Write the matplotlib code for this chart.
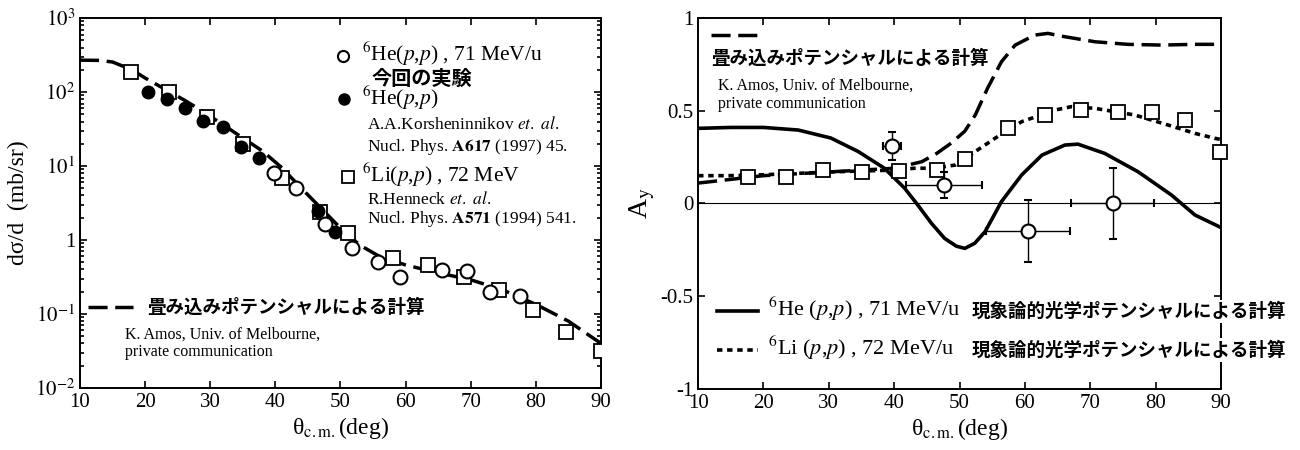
import numpy as np
import matplotlib
matplotlib.use("Agg")
import matplotlib.pyplot as plt
from matplotlib.ticker import FixedLocator, LogLocator, NullFormatter

plt.rcParams['font.family'] = ['Liberation Serif', 'DejaVu Serif']
plt.rcParams['mathtext.fontset'] = 'stix'
plt.rcParams['axes.unicode_minus'] = False

JP = ['Noto Sans CJK JP', 'DejaVu Sans']

# ---- left panel: cross sections ----
he_new_x = [39.8, 43.2, 47.6, 51.7, 55.8, 59.2, 65.6, 69.4, 73.0, 77.5]
he_new_y = [8.0, 5.0, 1.65, 0.77, 0.51, 0.32, 0.39, 0.38, 0.20, 0.175]

he_kor_x = [20.5, 23.3, 26.1, 28.9, 31.9, 34.7, 37.5, 46.5, 49.2]
he_kor_y = [99, 80, 61, 41, 34, 18, 12.7, 2.45, 1.28]

li_x = [17.8, 23.6, 29.5, 35.1, 41.0, 46.8, 51.2, 58.0, 63.5, 69.0, 74.4, 79.6, 84.6, 90.0]
li_y = [188, 99, 46, 20, 6.8, 2.4, 1.23, 0.565, 0.46, 0.32, 0.21, 0.113, 0.058, 0.032]

fold_x = [10, 13, 15, 18, 20, 23, 26, 29, 32, 35, 38, 41, 44, 47, 50,
          53, 56, 60, 65, 70, 75, 80, 85, 90]
fold_y = [270, 268, 255, 200, 155, 110, 78, 54, 36, 24, 16, 9.5, 5.0, 2.7, 1.45,
          0.85, 0.6, 0.46, 0.36, 0.29, 0.21, 0.135, 0.08, 0.04]

# ---- right panel: analyzing power ----
ay_he_x = [39.7, 47.6, 60.5, 73.4]
ay_he_y = [0.31, 0.10, -0.15, 0.0]
ay_he_xerr = [1.4, 5.8, 6.4, 6.3]
ay_he_yerr = [0.075, 0.068, 0.167, 0.19]

ay_li_x = [17.6, 23.4, 29.1, 35.0, 40.8, 46.6, 50.8, 57.4, 63.1, 68.6, 74.3, 79.4, 84.5, 89.8]
ay_li_y = [0.144, 0.141, 0.18, 0.171, 0.177, 0.18, 0.24, 0.409, 0.477, 0.504, 0.495,
           0.495, 0.45, 0.28]

phen_he_x = [10, 15, 20, 25.3, 30.3, 34.5, 38.5, 41.6, 43.6, 45.7, 47.7, 49.5, 50.8,
             52.3, 53.9, 56.4, 59.5, 62.6, 66.1, 68.1, 72.2, 77.3, 82.4, 86.0, 90]
phen_he_y = [0.405, 0.41, 0.41, 0.396, 0.353, 0.28, 0.19, 0.082, -0.008, -0.107, -0.188,
             -0.23, -0.242, -0.215, -0.152, 0.01, 0.154, 0.261, 0.315, 0.32, 0.27,
             0.171, 0.046, -0.062, -0.13]

phen_li_x = [10, 15, 20, 25, 30, 35, 40, 43.1, 45, 47, 49.3, 52.4, 55.4, 59.5, 64.6,
             67.1, 70.7, 76.8, 81.9, 86.0, 89.1, 90]
phen_li_y = [0.15, 0.15, 0.155, 0.162, 0.17, 0.175, 0.18, 0.19, 0.19, 0.195, 0.207,
             0.28, 0.351, 0.441, 0.504, 0.522, 0.513, 0.477, 0.423, 0.378, 0.351, 0.345]

fold_ay_x = [10, 15, 20, 25, 30, 35, 40, 44.2, 46.5, 48.7, 50.8, 52.4, 54.3, 56.4,
             58.5, 61.5, 63.5, 66.1, 70.7, 75.7, 80.9, 86.0, 90]
fold_ay_y = [0.11, 0.13, 0.15, 0.16, 0.17, 0.18, 0.19, 0.225, 0.27, 0.325, 0.39, 0.477,
             0.623, 0.764, 0.854, 0.908, 0.917, 0.899, 0.872, 0.858, 0.854, 0.858, 0.858]

fig = plt.figure(figsize=(13, 4.5), dpi=100)
ax1 = fig.add_axes([0.0615, 0.1378, 0.4008, 0.822])
ax2 = fig.add_axes([0.537, 0.1356, 0.4023, 0.8244])

for ax in (ax1, ax2):
    for s in ax.spines.values():
        s.set_linewidth(1.4)
    ax.tick_params(which='both', direction='in', top=True, right=True,
                   labelsize=15, width=1.2)
    ax.tick_params(which='major', length=5)
    ax.tick_params(which='minor', length=3)
    ax.set_xlim(10, 90)
    ax.set_xticks(range(10, 91, 10))
    ax.set_xlabel(r'θ$_{\rm c.m.}$(deg)', fontsize=17, labelpad=2)

# left panel
ax1.set_yscale('log')
ax1.set_ylim(1e-2, 1e3)
ax1.yaxis.set_major_locator(FixedLocator([1e-2, 1e-1, 1, 1e1, 1e2, 1e3]))
ax1.set_yticklabels([r'$10^{-2}$', r'$10^{-1}$', '1', r'$10^{1}$', r'$10^{2}$', r'$10^{3}$'])
ax1.yaxis.set_minor_locator(LogLocator(base=10, subs=np.arange(2, 10)))
ax1.yaxis.set_minor_formatter(NullFormatter())
ax1.set_ylabel('dσ/d  (mb/sr)', fontsize=17, labelpad=4)

ax1.plot(fold_x, fold_y, color='black', lw=2.5, dashes=(5.5, 2.2), zorder=2)
ax1.plot(li_x, li_y, 's', ms=10, mfc='white', mec='black', mew=1.3, zorder=3)
ax1.plot(he_kor_x, he_kor_y, 'o', ms=9, color='black', zorder=4)
ax1.plot(he_new_x, he_new_y, 'o', ms=10, mfc='white', mec='black', mew=1.5, zorder=5)

# left legend
T = ax1.transAxes
ax1.plot([0.505], [0.897], 'o', ms=8, mfc='white', mec='black', mew=1.5, transform=T, clip_on=False)
ax1.text(0.541, 0.902, r'$^{6}$He($p$,$p$) , 71 MeV/u', transform=T, fontsize=15.5, va='center')
ax1.text(0.560, 0.836, '今回の実験', transform=T, fontsize=14.5, va='center',
         family=JP, weight='bold')
ax1.plot([0.507], [0.780], 'o', ms=8, color='black', transform=T, clip_on=False)
ax1.text(0.541, 0.783, r'$^{6}$He($p$,$p$)', transform=T, fontsize=15.5, va='center')
ax1.text(0.551, 0.711, r'A.A.Korsheninnikov $\mathit{et.\ al}$.', transform=T, fontsize=12.5, va='center')
ax1.text(0.551, 0.651, r'Nucl. Phys. $\mathbf{A617}$ (1997) 45.', transform=T, fontsize=12.5, va='center')
ax1.plot([0.514], [0.570], 's', ms=8, mfc='white', mec='black', mew=1.3, transform=T, clip_on=False)
ax1.text(0.541, 0.576, r'$^{6}$Li($p$,$p$) , 72 MeV', transform=T, fontsize=15.5, va='center')
ax1.text(0.551, 0.510, r'R.Henneck $\mathit{et.\ al}$.', transform=T, fontsize=12.5, va='center')
ax1.text(0.551, 0.456, r'Nucl. Phys. $\mathbf{A571}$ (1994) 541.', transform=T, fontsize=12.5, va='center')

ax1.plot([0.015, 0.102], [0.219, 0.219], color='black', lw=2.5, dashes=(5.5, 2.2), transform=T)
ax1.text(0.129, 0.219, '畳み込みポテンシャルによる計算', transform=T, fontsize=13.3,
         va='center', family=JP, weight='bold')
ax1.text(0.086, 0.143, 'K. Amos, Univ. of Melbourne,', transform=T, fontsize=11.5, va='center')
ax1.text(0.086, 0.097, 'private communication', transform=T, fontsize=11.5, va='center')

# right panel
ax2.set_ylim(-1, 1)
ax2.set_yticks([-1, -0.5, 0, 0.5, 1])
ax2.set_yticklabels(['-1', '-0.5', '0', '0.5', '1'])
ax2.set_ylabel(r'A$_{\rm y}$', fontsize=20, labelpad=2)
ax2.axhline(0, color='black', lw=0.8, zorder=1)

ax2.plot(phen_he_x, phen_he_y, color='black', lw=2.6, zorder=2)
ax2.plot(phen_li_x, phen_li_y, color='black', lw=2.6, dashes=(1.5, 1.3), zorder=2)
ax2.plot(fold_ay_x, fold_ay_y, color='black', lw=2.5, dashes=(5.5, 2.2), zorder=2)
ax2.plot(ay_li_x, ay_li_y, 's', ms=10, mfc='white', mec='black', mew=1.3, zorder=3,
         clip_on=False)
ax2.errorbar(ay_he_x, ay_he_y, xerr=ay_he_xerr, yerr=ay_he_yerr, fmt='o', ms=10,
             mfc='white', mec='black', mew=1.5, ecolor='black', elinewidth=1.0,
             capsize=3, capthick=1.0, zorder=4)

T2 = ax2.transAxes
ax2.plot([0.025, 0.115], [0.954, 0.954], color='black', lw=2.5, dashes=(5.5, 2.2), transform=T2)
ax2.text(0.025, 0.892, '畳み込みポテンシャルによる計算', transform=T2, fontsize=13.3,
         va='center', family=JP, weight='bold')
ax2.text(0.038, 0.819, 'K. Amos, Univ. of Melbourne,', transform=T2, fontsize=11.5, va='center')
ax2.text(0.038, 0.768, 'private communication', transform=T2, fontsize=11.5, va='center')

ax2.plot([0.036, 0.115], [0.210, 0.210], color='black', lw=2.6, transform=T2)
ax2.text(0.134, 0.216, r'$^{6}$He ($p$,$p$) , 71 MeV/u', transform=T2, fontsize=16, va='center')
ax2.plot([0.036, 0.115], [0.105, 0.105], color='black', lw=2.6, dashes=(1.5, 1.3), transform=T2)
ax2.text(0.134, 0.111, r'$^{6}$Li ($p$,$p$) , 72 MeV/u', transform=T2, fontsize=16, va='center')
for yy in (0.210, 0.105):
    ax2.text(0.524, yy, '現象論的光学ポテンシャルによる計算', transform=T2, fontsize=13.3,
             va='center', family=JP, weight='bold', clip_on=False, zorder=6,
             bbox=dict(facecolor='white', edgecolor='none', pad=1.5))

fig.savefig('out.png', dpi=100)
